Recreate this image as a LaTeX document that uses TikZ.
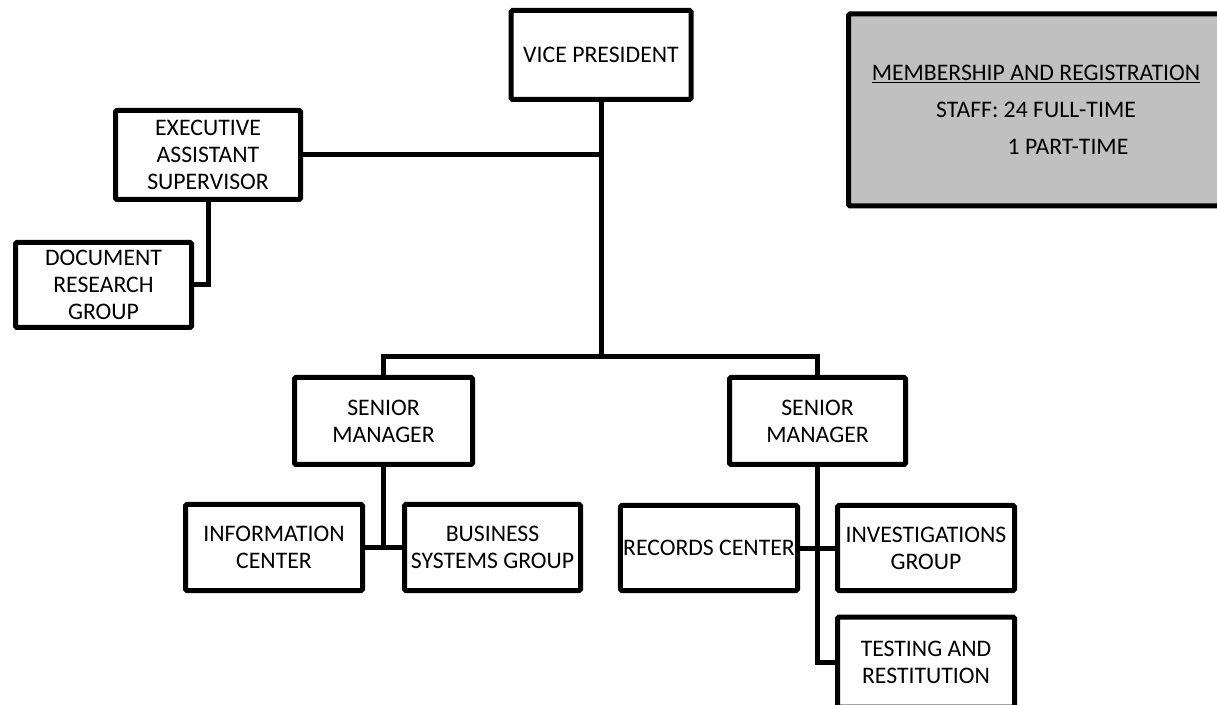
\documentclass[tikz,border=0pt]{standalone}
\usepackage{fontspec}
\setmainfont{Carlito}
\definecolor{boxgray}{HTML}{C0C0C0}
\begin{document}
\begin{tikzpicture}[x=0.75pt,y=-0.75pt,
  box/.style={draw=black, line width=3.75pt, fill=white, align=center, inner sep=2pt,
    font=\fontsize{17.8}{20.25}\selectfont, rounded corners=1pt},
  conn/.style={line width=3.75pt}]
\path[clip] (0,0) rectangle (1217,705);
\fill[white] (0,0) rectangle (1217,705);
% boxes
\node[box, minimum width=135pt, minimum height=66.75pt] (vp) at (601,55) {VICE PRESIDENT};
\node[box, minimum width=138.75pt, minimum height=66.75pt] (exec) at (208,155) {EXECUTIVE\\ASSISTANT\\SUPERVISOR};
\node[box, minimum width=132pt, minimum height=63.75pt] (doc) at (103.5,285) {DOCUMENT\\RESEARCH\\GROUP};
\node[box, minimum width=133.5pt, minimum height=65.25pt] (sm1) at (383.5,421) {SENIOR\\MANAGER};
\node[box, minimum width=132pt, minimum height=65.25pt] (sm2) at (817.5,421) {SENIOR\\MANAGER};
\node[box, minimum width=132.75pt, minimum height=64.5pt] (info) at (274,547.5) {INFORMATION\\CENTER};
\node[box, minimum width=132pt, minimum height=64.5pt] (bus) at (492.5,547.5) {BUSINESS\\SYSTEMS GROUP};
\node[box, minimum width=132.75pt, minimum height=63.75pt] (rec) at (709,548) {RECORDS CENTER};
\node[box, minimum width=132.75pt, minimum height=63.75pt] (inv) at (926,548) {INVESTIGATIONS\\GROUP};
\node[box, minimum width=132.75pt, minimum height=67.5pt] (test) at (926,662) {TESTING AND\\RESTITUTION};
\node[box, fill=boxgray, minimum width=281.25pt, minimum height=144pt] (mem) at (1036,110)
  {\underline{MEMBERSHIP AND REGISTRATION}\\[7.5pt] STAFF: 24 FULL-TIME\\[7.5pt] \hspace*{48pt}1 PART-TIME};
% connectors
\coordinate (j1) at (601,155);
\coordinate (j2) at (601,357);
\draw[conn] (vp.south) -- (j2);
\draw[conn] (exec.east) -- (j1);
\draw[conn] (sm1.north) |- (j2) -| (sm2.north);
\draw[conn] (exec.south) |- (doc.east);
\draw[conn] (sm1.south) -- (sm1.south |- info.east);
\draw[conn] (info.east) -- (bus.west);
\draw[conn] (sm2.south) |- (test.west);
\draw[conn] (rec.east) -- (inv.west);
\end{tikzpicture}
\end{document}
